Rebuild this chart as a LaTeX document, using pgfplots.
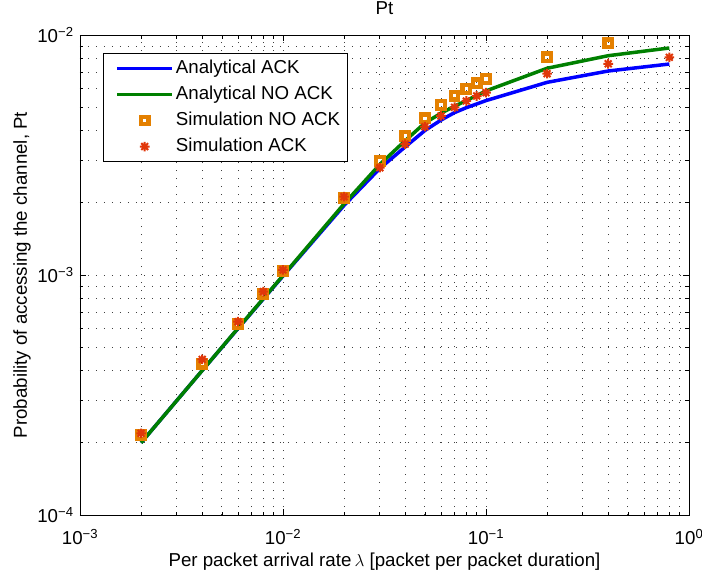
\documentclass[border=0pt]{standalone}
\usepackage{fontspec}
\setmainfont{Liberation Sans}
\usepackage{pgfplots}
\usepackage{pgfplotstable}
\pgfplotsset{compat=1.18}
\definecolor{mblue}{RGB}{0,0,255}
\definecolor{mgreen}{RGB}{0,128,0}
\definecolor{morange}{RGB}{228,128,0}
\definecolor{mred}{RGB}{225,55,10}

\pgfdeclareplotmark{mstar}{%
 \pgfpathmoveto{\pgfqpoint{-\pgfplotmarksize}{0pt}}\pgfpathlineto{\pgfqpoint{\pgfplotmarksize}{0pt}}%
 \pgfpathmoveto{\pgfqpoint{0pt}{-\pgfplotmarksize}}\pgfpathlineto{\pgfqpoint{0pt}{\pgfplotmarksize}}%
 \pgfpathmoveto{\pgfqpoint{-.7071\pgfplotmarksize}{-.7071\pgfplotmarksize}}\pgfpathlineto{\pgfqpoint{.7071\pgfplotmarksize}{.7071\pgfplotmarksize}}%
 \pgfpathmoveto{\pgfqpoint{-.7071\pgfplotmarksize}{.7071\pgfplotmarksize}}\pgfpathlineto{\pgfqpoint{.7071\pgfplotmarksize}{-.7071\pgfplotmarksize}}%
 \pgfusepathqstroke}

\pgfplotsset{
 lineleg/.style={legend image code/.code={\path (-7bp,0bp); \draw[##1] (0bp,0bp) -- (55bp,0bp);}},
 markleg/.style={legend image code/.code={\path (-7bp,0bp) (55bp,0bp); \draw[##1] plot coordinates {(27.5bp,0bp)};}},
}

\pgfplotstableread{
x anack annoack
0.002 2.0e-4 2.0e-4
0.004 4.0e-4 4.0e-4
0.006 5.98e-4 6.0e-4
0.008 7.95e-4 7.98e-4
0.01 9.9e-4 9.95e-4
0.02 1.95e-3 1.98e-3
0.03 2.78e-3 2.89e-3
0.04 3.42e-3 3.63e-3
0.05 4.0e-3 4.3e-3
0.06 4.42e-3 4.72e-3
0.07 4.75e-3 5.05e-3
0.08 4.98e-3 5.33e-3
0.09 5.16e-3 5.6e-3
0.1 5.33e-3 5.85e-3
0.2 6.35e-3 7.27e-3
0.4 7.08e-3 8.2e-3
0.8 7.57e-3 8.83e-3
}\analytical

\pgfplotstableread{
x y
0.002 2.15e-4
0.004 4.27e-4
0.006 6.25e-4
0.008 8.33e-4
0.01 1.04e-3
0.02 2.1e-3
0.03 2.99e-3
0.04 3.80e-3
0.05 4.50e-3
0.06 5.11e-3
0.07 5.59e-3
0.08 5.96e-3
0.09 6.29e-3
0.1 6.56e-3
0.2 8.07e-3
0.4 9.23e-3
}\simnoack

\pgfplotstableread{
x y
0.002 2.19e-4
0.004 4.45e-4
0.006 6.39e-4
0.008 8.52e-4
0.01 1.05e-3
0.02 2.12e-3
0.03 2.80e-3
0.04 3.51e-3
0.05 4.15e-3
0.06 4.60e-3
0.07 5.00e-3
0.08 5.31e-3
0.09 5.57e-3
0.1 5.75e-3
0.2 6.90e-3
0.4 7.59e-3
0.8 8.07e-3
}\simack

\begin{document}
\fontsize{18.7bp}{22bp}\selectfont
\begin{tikzpicture}
\begin{axis}[
 at={(0,0)}, anchor=south west, scale only axis,
 width=609bp, height=480bp,
 xmode=log, ymode=log,
 xmin=1e-3, xmax=1, ymin=1e-4, ymax=1e-2,
 font=\fontsize{18.7bp}{22bp}\selectfont,
 xtick={1e-3,1e-2,1e-1,1},
 xticklabels={10\textsuperscript{−3},10\textsuperscript{−2},10\textsuperscript{−1},10\textsuperscript{0}},
 ytick={1e-4,1e-3,1e-2},
 yticklabels={10\textsuperscript{−4},10\textsuperscript{−3},10\textsuperscript{−2}},
 minor xtick={2e-3,3e-3,4e-3,5e-3,6e-3,7e-3,8e-3,9e-3,2e-2,3e-2,4e-2,5e-2,6e-2,7e-2,8e-2,9e-2,0.2,0.3,0.4,0.5,0.6,0.7,0.8,0.9},
 minor ytick={2e-4,3e-4,4e-4,5e-4,6e-4,7e-4,8e-4,9e-4,2e-3,3e-3,4e-3,5e-3,6e-3,7e-3,8e-3,9e-3},
 grid=both,
 major grid style={black!75, line width=0.8bp, dash pattern=on 0.8bp off 7.2bp},
 minor grid style={black!75, line width=0.8bp, dash pattern=on 0.8bp off 7.2bp},
 tick align=inside, major tick length=6bp, minor tick length=3.5bp,
 every tick/.style={black, line width=0.7bp},
 axis line style={black, line width=0.9bp},
 xticklabel style={yshift=-8bp},
 title={Pt},
 title style={at={(axis description cs:0.5,1.03125)}, anchor=base, inner sep=0pt},
 xlabel={Per packet arrival rate\,$\lambda$ [packet per packet duration]},
 xlabel style={at={(axis description cs:0.5,-0.10625)}, anchor=base, inner sep=0pt},
 ylabel={Probability of accessing the channel, Pt},
 ylabel style={at={(axis description cs:-0.095,0.5)}, anchor=center, inner sep=0pt},
 legend cell align=left,
 legend style={at={(axis description cs:0.0378,0.963)}, anchor=north west,
   draw=black, line width=0.9bp, fill=white,
   inner xsep=5bp, inner ysep=4.5bp, row sep=4.3bp,
   nodes={inner sep=2bp, text height=13.4bp, text depth=4.3bp}},
]
\addplot[mblue, line width=3.5bp, no marks, lineleg]
  table[x=x, y=anack] {\analytical};
\addlegendentry{Analytical ACK}
\addplot[mgreen, line width=3.5bp, no marks, lineleg]
  table[x=x, y=annoack] {\analytical};
\addlegendentry{Analytical NO ACK}
\addplot[only marks, mark=square, mark size=3.8bp, mark options={draw=morange, line width=4.2bp}, morange, markleg]
  table[x=x, y=y] {\simnoack};
\addlegendentry{Simulation NO ACK}
\addplot[only marks, mark=mstar, mark size=4.8bp, mark options={draw=mred, line width=2bp}, mred, markleg]
  table[x=x, y=y] {\simack};
\addlegendentry{Simulation ACK}
\end{axis}
\pgfresetboundingbox
\path[use as bounding box] (-80bp,-59bp) rectangle (622bp,515bp);
\end{tikzpicture}
\end{document}
